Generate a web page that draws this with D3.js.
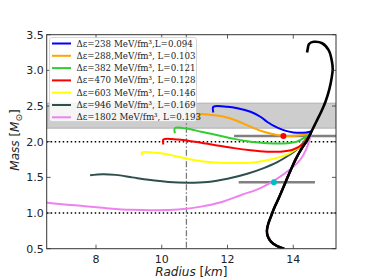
<!DOCTYPE html>
<html>
<head>
<meta charset="utf-8">
<script src="https://cdn.jsdelivr.net/npm/d3@7"></script>
<style>
body { margin: 0; background: #fff; }
text { font-family: "DejaVu Sans", sans-serif; }
</style>
</head>
<body>
<script>
// hadronic branch, bottom to top [R km, M sun]
var hadronic = [[13.72,0.5],[13.5,0.54],[13.32,0.6],[13.22,0.68],[13.2,0.76],[13.24,0.85],[13.32,0.95],
  [13.42,1.07],[13.55,1.2],[13.68,1.34],[13.78,1.45],[13.92,1.6],[14.08,1.76],[14.25,1.9],[14.42,2.02],
  [14.55,2.14],[14.7,2.28],[14.85,2.42],[14.98,2.56],[15.1,2.74],[15.17,2.9],[15.2,3.02],[15.17,3.14],
  [15.08,3.28],[14.88,3.38],[14.62,3.4],[14.48,3.37],[14.44,3.3],[14.42,3.25]];

// hybrid branches, left end to junction
var blueBranch = [[11.57,2.41],[11.57,2.49],[12.0,2.49],[12.3,2.47],[12.7,2.42],[13.0,2.35],[13.2,2.28],
  [13.5,2.2],[13.75,2.155],[14.0,2.13],[14.2,2.125],[14.4,2.13],[14.55,2.14]];
var orangeBranch = [[11.14,2.31],[11.14,2.38],[11.5,2.375],[11.9,2.35],[12.3,2.29],[12.7,2.21],[13.1,2.14],
  [13.5,2.095],[13.8,2.08],[14.1,2.085],[14.35,2.1],[14.55,2.14]];
var greenBranch = [[10.4,2.12],[10.4,2.19],[10.8,2.18],[11.2,2.14],[11.7,2.09],[12.2,2.04],[12.7,2.0],
  [13.2,1.98],[13.7,1.975],[14.1,2.0],[14.35,2.06],[14.55,2.14]];
var redBranch = [[10.05,1.96],[10.05,2.03],[10.5,2.03],[11.0,2.0],[11.6,1.955],[12.2,1.91],[12.7,1.88],
  [13.2,1.86],[13.6,1.86],[14.0,1.89],[14.3,1.97],[14.55,2.14]];
var yellowBranch = [[9.4,1.81],[9.4,1.85],[9.9,1.84],[10.4,1.8],[11.0,1.74],[11.6,1.71],[12.2,1.70],
  [12.8,1.71],[13.4,1.76],[13.9,1.84],[14.3,1.97],[14.55,2.14]];
var slateBranch = [[7.82,1.53],[8.2,1.545],[8.6,1.535],[9.1,1.50],[9.6,1.465],[10.2,1.435],[10.8,1.425],
  [11.4,1.435],[12.0,1.48],[12.6,1.55],[13.1,1.63],[13.5,1.71],[13.9,1.82],[14.2,1.93],[14.55,2.14]];
var pinkBranch = [[6.3,1.16],[6.8,1.13],[7.6,1.10],[8.4,1.065],[9.1,1.045],[9.8,1.04],[10.5,1.05],
  [11.2,1.09],[11.8,1.15],[12.4,1.25],[13.0,1.35],[13.5,1.48],[13.9,1.61],[14.2,1.74],[14.4,1.9],[14.55,2.14]];

var labels = ["\u0394\u03b5=238 MeV/fm\u00b3,L=0.094", "\u0394\u03b5=288,MeV/fm\u00b3, L=0.103",
  "\u0394\u03b5=382 MeV/fm\u00b3, L=0.121", "\u0394\u03b5=470 MeV/fm\u00b3, L=0.128",
  "\u0394\u03b5=603 MeV/fm\u00b3, L=0.146", "\u0394\u03b5=946 MeV/fm\u00b3, L=0.169",
  "\u0394\u03b5=1802 MeV/fm\u00b3, L=0.193"];
var colors = ["#0000ff", "#ffa500", "#32cd32", "#ff0000", "#ffff00", "#2f4f4f", "#ee82ee"];
var branches = [blueBranch, orangeBranch, greenBranch, redBranch, yellowBranch, slateBranch, pinkBranch];

var xTicks = [8, 10, 12, 14];
var yTicks = [0.5, 1.0, 1.5, 2.0, 2.5, 3.0, 3.5];

var band = [2.19, 2.54];          // max mass band
var dotted = [1.0, 2.0];
var radiusLine = 10.75;
var pulsar1 = {r: 13.7, m: 2.08, lo: 12.2, hi: 15.6, color: "#ff0000"};
var pulsar2 = {r: 13.41, m: 1.43, lo: 12.34, hi: 14.66, color: "#00bfbf"};

var W = 374, H = 280;
var pL = 46.7, pR = 336, pT = 34.7, pB = 248.7;

var svg = d3.select("body").append("svg").attr("width", W).attr("height", H);

var x = d3.scaleLinear().domain([6.5, 15.3]).range([pL, pR]);
var y = d3.scaleLinear().domain([0.5, 3.5]).range([pB, pT]);

svg.append("clipPath").attr("id", "clip").append("rect")
  .attr("x", pL).attr("y", pT).attr("width", pR - pL).attr("height", pB - pT);

var plot = svg.append("g").attr("clip-path", "url(#clip)");

// band
plot.append("rect").attr("x", pL).attr("width", pR - pL)
  .attr("y", y(band[1])).attr("height", y(band[0]) - y(band[1]))
  .attr("fill", "#c8c8c8").attr("fill-opacity", 0.9)
  .attr("stroke", "#b0b0b0").attr("stroke-width", 1);

dotted.forEach(function (m) {
  plot.append("line").attr("x1", pL).attr("x2", pR).attr("y1", y(m)).attr("y2", y(m))
    .attr("stroke", "#000").attr("stroke-width", 1.5).attr("stroke-dasharray", "1.5,2.5");
});

plot.append("line").attr("x1", x(radiusLine)).attr("x2", x(radiusLine)).attr("y1", pT).attr("y2", pB)
  .attr("stroke", "#7a7a7a").attr("stroke-width", 1.3).attr("stroke-dasharray", "6,2,1.5,2");

[pulsar1, pulsar2].forEach(function (p) {
  plot.append("line").attr("x1", x(p.lo)).attr("x2", x(p.hi)).attr("y1", y(p.m)).attr("y2", y(p.m))
    .attr("stroke", "#808080").attr("stroke-width", 2.5);
});

var line = d3.line().x(function (d) { return x(d[0]); }).y(function (d) { return y(d[1]); })
  .curve(d3.curveCatmullRom);

// each colored curve: hybrid branch + hadronic part below junction
var low = hadronic.filter(function (d) { return d[1] < 2.14; }).slice().reverse();
for (var i = branches.length - 1; i >= 0; i--) {
  plot.append("path").datum(branches[i].concat(low))
    .attr("d", line).attr("fill", "none").attr("stroke", colors[i]).attr("stroke-width", 2);
}

plot.append("path").datum(hadronic).attr("d", line).attr("fill", "none")
  .attr("stroke", "#000").attr("stroke-width", 2.6);

[pulsar1, pulsar2].forEach(function (p) {
  plot.append("circle").attr("cx", x(p.r)).attr("cy", y(p.m)).attr("r", 3).attr("fill", p.color);
});

// frame and ticks
svg.append("rect").attr("x", pL).attr("y", pT).attr("width", pR - pL).attr("height", pB - pT)
  .attr("fill", "none").attr("stroke", "#333").attr("stroke-width", 1);

var tk = svg.append("g").attr("stroke", "#333").attr("stroke-width", 0.8);
xTicks.forEach(function (v) {
  tk.append("line").attr("x1", x(v)).attr("x2", x(v)).attr("y1", pB).attr("y2", pB - 4);
  tk.append("line").attr("x1", x(v)).attr("x2", x(v)).attr("y1", pT).attr("y2", pT + 4);
  svg.append("text").attr("x", x(v)).attr("y", pB + 14).attr("text-anchor", "middle")
    .style("font-size", "11px").attr("fill", "#222").text(v);
});
yTicks.forEach(function (v) {
  tk.append("line").attr("x1", pL).attr("x2", pL + 4).attr("y1", y(v)).attr("y2", y(v));
  tk.append("line").attr("x1", pR).attr("x2", pR - 4).attr("y1", y(v)).attr("y2", y(v));
  svg.append("text").attr("x", pL - 3).attr("y", y(v) + 4).attr("text-anchor", "end")
    .style("font-size", "11px").attr("fill", "#222").text(v.toFixed(1));
});

// axis labels
var xl = svg.append("text").attr("x", (pL + pR) / 2).attr("y", 276).attr("text-anchor", "middle")
  .style("font-size", "12px").attr("fill", "#222");
xl.append("tspan").style("font-style", "italic").text("Radius");
xl.append("tspan").text(" [");
xl.append("tspan").style("font-style", "italic").text("km");
xl.append("tspan").text("]");

var yl = svg.append("text").attr("transform", "translate(19,140) rotate(-90)").attr("text-anchor", "middle")
  .style("font-size", "12px").attr("fill", "#222");
yl.append("tspan").style("font-style", "italic").text("Mass");
yl.append("tspan").text(" [");
yl.append("tspan").style("font-style", "italic").text("M");
yl.append("tspan").attr("dy", 3).style("font-size", "9px").text("\u2299");
yl.append("tspan").attr("dy", -3).text("]");

// legend
var lg = svg.append("g");
lg.append("rect").attr("x", 49.5).attr("y", 37.5).attr("width", 147).attr("height", 84).attr("rx", 2)
  .attr("fill", "#fff").attr("fill-opacity", 0.8).attr("stroke", "#ccc").attr("stroke-width", 0.8);
labels.forEach(function (t, i) {
  var ly = 43.5 + i * 12.3;
  lg.append("line").attr("x1", 52).attr("x2", 71).attr("y1", ly).attr("y2", ly)
    .attr("stroke", colors[i]).attr("stroke-width", 2);
  lg.append("text").attr("x", 76.5).attr("y", ly + 3).style("font-family", "'DejaVu Serif', serif")
    .style("font-size", "8.7px").attr("fill", "#222").text(t);
});
</script>
</body>
</html>
